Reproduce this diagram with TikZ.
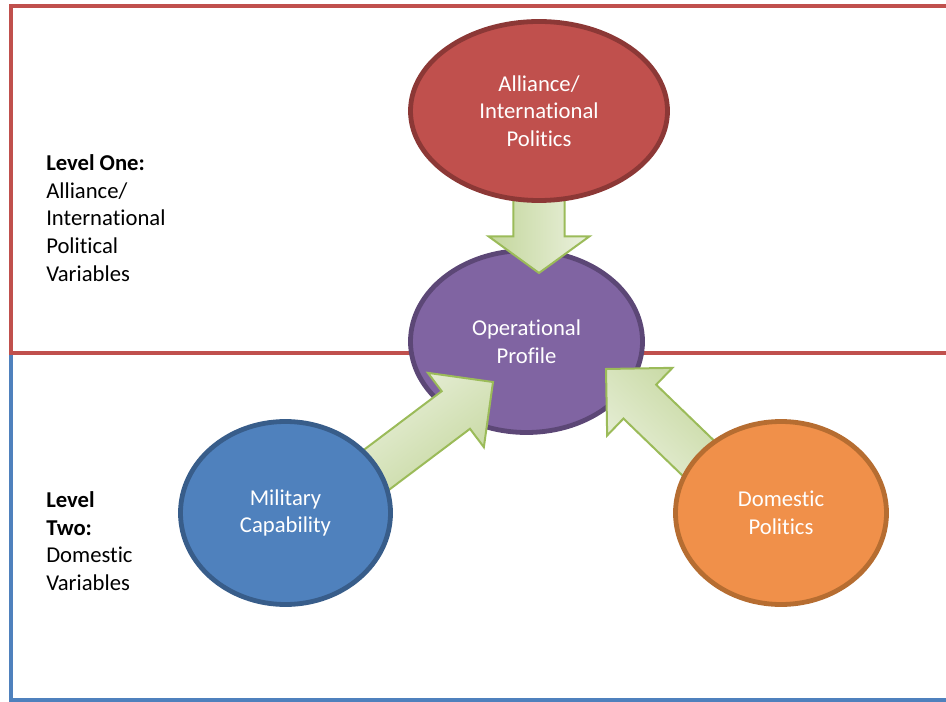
\documentclass[tikz,border=0pt]{standalone}
\usepackage{fontspec}
\setmainfont{Carlito}[Ligatures=NoCommon]
\usepackage{xcolor}
\usetikzlibrary{shapes.geometric,shapes.arrows}

\definecolor{boxred}{HTML}{C0504D}
\definecolor{boxblue}{HTML}{4F81BD}
\definecolor{allyfill}{HTML}{C0504D}
\definecolor{allyline}{HTML}{8C3836}
\definecolor{opfill}{HTML}{8064A2}
\definecolor{opline}{HTML}{5C4776}
\definecolor{milfill}{HTML}{4F81BD}
\definecolor{milline}{HTML}{385D8A}
\definecolor{domfill}{HTML}{F0904A}
\definecolor{domline}{HTML}{B66D31}
\definecolor{arrline}{HTML}{9BBB59}
\definecolor{arrdark}{HTML}{C3D69B}
\definecolor{arrlight}{HTML}{EBF1DE}

\begin{document}
\begin{tikzpicture}[
    x=0.75pt, y=-0.75pt,
    txt/.style = {font=\fontsize{17}{20.8}\selectfont},
    blob/.style = {ellipse, line width=3.6pt, inner sep=0pt, outer sep=0pt, txt, text=white, align=center},
    levelbox/.style = {line width=3.5pt},
    blockarrow/.style = {single arrow, draw=arrline, line width=1.5pt,
        shading=axis, top color=arrlight, bottom color=arrdark, shading angle=#1, rotate=#1,
        inner xsep=0pt, outer sep=0pt, minimum width=0pt, anchor=tip},
    leveltext/.style = {txt, align=left, anchor=west, inner sep=0pt}
]
    \useasboundingbox (0,0) rectangle (946,702);
    \clip (0,0) rectangle (946,702);

    % Levels
    \draw[levelbox, boxblue] (11,353) rectangle (970,700);
    \draw[levelbox, boxred] (11,6) rectangle (970,353);

    \node[leveltext] (one) at (46,218) {\textbf{Level One:}\\Alliance/\\International\\Political\\Variables};
    \node[leveltext] (two) at (46,541) {\textbf{Level}\\\textbf{Two:}\\Domestic\\Variables};

    % Centre
    \node[blob, fill=opfill, draw=opline, minimum width=174pt, minimum height=136.5pt] (oprofile) at (526.5,341.5) {Operational\\Profile};

    % Arrows (shaft half width = inner ysep)
    \coordinate (tipA) at (539,273);
    \coordinate (tipM) at (493,382);
    \coordinate (tipD) at (606,369);
    \node[blockarrow=-90, minimum height=56pt, inner ysep=18.4pt,
          single arrow head extend=18.75pt, single arrow tip angle=108] (arrA) at (tipA) {};
    \node[blockarrow=37, minimum height=131pt, inner ysep=16.9pt,
          single arrow head extend=17.25pt, single arrow tip angle=90] (arrM) at (tipM) {};
    \node[blockarrow=136, minimum height=120pt, inner ysep=16.9pt,
          single arrow head extend=17.6pt, single arrow tip angle=90] (arrD) at (tipD) {};

    % Outer circles
    \node[blob, fill=allyfill, draw=allyline, minimum width=192.75pt, minimum height=134.25pt] (alliance) at (539,111) {Alliance/\\International\\Politics};
    \node[blob, fill=milfill, draw=milline, minimum width=157.5pt, minimum height=137.25pt] (military) at (285.5,513) {Military\\Capability};
    \node[blob, fill=domfill, draw=domline, minimum width=158.25pt, minimum height=137.25pt] (domestic) at (781,513) {Domestic\\Politics};
\end{tikzpicture}
\end{document}
